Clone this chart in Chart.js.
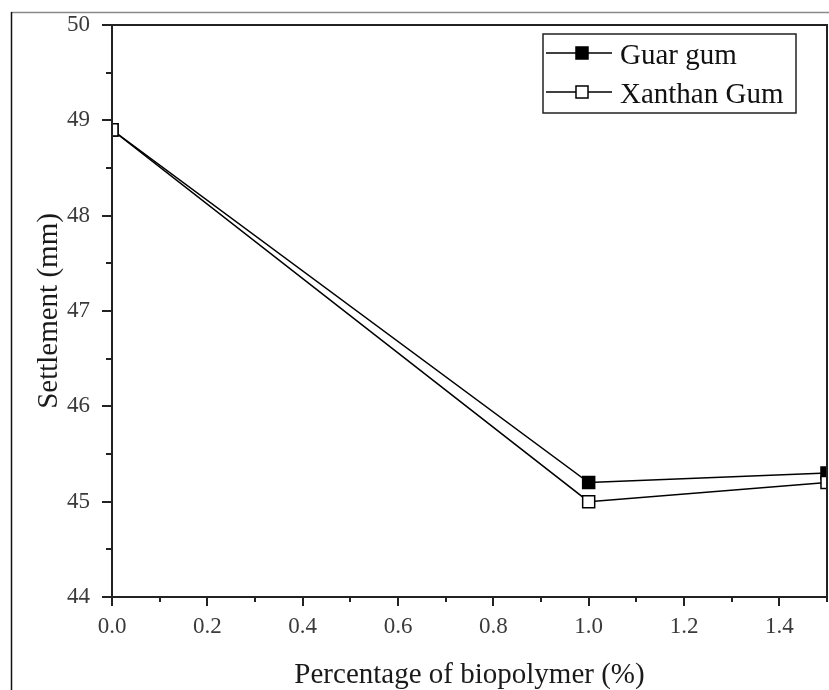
<!DOCTYPE html>
<html>
<head>
<meta charset="utf-8">
<script src="https://cdn.jsdelivr.net/npm/chart.js"></script>
<style>
  body { margin: 0; background: #fff; }
  #wrap { width: 829px; height: 690px; }
</style>
</head>
<body>
<div id="wrap"><canvas id="chart" width="829" height="690"></canvas></div>
<script>
// biopolymer content (%) vs settlement (mm)
var dosage = [0.0, 1.0, 1.5];
var guarGum = [48.9, 45.2, 45.3];
var xanthanGum = [48.9, 45.0, 45.2];
var seriesNames = ['Guar gum', 'Xanthan Gum'];

// tick positions (major get labels, minor are short marks only)
var xMajor = [0.0, 0.2, 0.4, 0.6, 0.8, 1.0, 1.2, 1.4];
var xMinor = [0.1, 0.3, 0.5, 0.7, 0.9, 1.1, 1.3, 1.5];
var yMajor = [44, 45, 46, 47, 48, 49, 50];
var yMinor = [44.5, 45.5, 46.5, 47.5, 48.5, 49.5];

var serif = '"Liberation Serif", "Times New Roman", serif';

function toPoints(ys) {
    return dosage.map((d, i) => ({ x: d, y: ys[i] }));
}

// outer figure frame, plot box and the outward tick marks
var axesBox = {
    id: 'axesBox',
    beforeDraw(chart) {
        const ctx = chart.ctx;
        ctx.save();
        ctx.lineWidth = 1.5;
        ctx.strokeStyle = '#8a8a8a';
        ctx.beginPath();
        ctx.moveTo(11, 12.5);
        ctx.lineTo(chart.width, 12.5);
        ctx.stroke();
        ctx.strokeStyle = '#111';
        ctx.beginPath();
        ctx.moveTo(11.5, 12);
        ctx.lineTo(11.5, chart.height);
        ctx.stroke();
        ctx.restore();
    },
    afterDatasetsDraw(chart) {
        const { ctx, chartArea: a, scales: { x, y } } = chart;
        ctx.save();
        ctx.strokeStyle = '#222';
        ctx.lineWidth = 2;
        ctx.strokeRect(a.left, a.top, a.right - a.left, a.bottom - a.top);
        ctx.beginPath();
        xMajor.forEach(v => {
            const px = Math.round(x.getPixelForValue(v));
            ctx.moveTo(px, a.bottom); ctx.lineTo(px, a.bottom + 9);
        });
        xMinor.forEach(v => {
            const px = Math.round(x.getPixelForValue(v));
            ctx.moveTo(px, a.bottom); ctx.lineTo(px, a.bottom + 5);
        });
        yMajor.forEach(v => {
            const py = Math.round(y.getPixelForValue(v));
            ctx.moveTo(a.left, py); ctx.lineTo(a.left - 10, py);
        });
        yMinor.forEach(v => {
            const py = Math.round(y.getPixelForValue(v));
            ctx.moveTo(a.left, py); ctx.lineTo(a.left - 6, py);
        });
        ctx.stroke();
        ctx.restore();
    }
};

// boxed legend in the top right corner, line through marker like the original
var boxLegend = {
    id: 'boxLegend',
    afterDraw(chart) {
        const { ctx, chartArea: a } = chart;
        const left = a.right - 284, top = a.top + 9;
        ctx.save();
        ctx.strokeStyle = '#222';
        ctx.lineWidth = 1.5;
        ctx.strokeRect(left, top, 253, 79);
        chart.data.datasets.forEach((ds, i) => {
            const rowY = a.top + 28 + i * 39;
            ctx.strokeStyle = '#000';
            ctx.lineWidth = 1.5;
            ctx.beginPath();
            ctx.moveTo(left + 3, rowY);
            ctx.lineTo(left + 69, rowY);
            ctx.stroke();
            const s = ds.pointRadius * Math.SQRT1_2;
            ctx.fillStyle = ds.pointBackgroundColor;
            ctx.fillRect(left + 39 - s, rowY - s, 2 * s, 2 * s);
            ctx.strokeRect(left + 39 - s, rowY - s, 2 * s, 2 * s);
            ctx.fillStyle = '#111';
            ctx.font = '29px ' + serif;
            ctx.textBaseline = 'alphabetic';
            ctx.fillText(ds.label, left + 77, rowY + 11);
        });
        ctx.restore();
    }
};

new Chart(document.getElementById('chart'), {
    type: 'line',
    data: {
        datasets: [{
            label: seriesNames[0],
            data: toPoints(guarGum),
            borderColor: '#000',
            borderWidth: 1.5,
            pointStyle: 'rect',
            pointRadius: 8.5,
            pointBackgroundColor: '#000',
            pointBorderColor: '#000',
            pointBorderWidth: 1.5,
            tension: 0,
            order: 1
        }, {
            label: seriesNames[1],
            data: toPoints(xanthanGum),
            borderColor: '#000',
            borderWidth: 1.5,
            pointStyle: 'rect',
            pointRadius: 8.5,
            pointBackgroundColor: '#fff',
            pointBorderColor: '#000',
            pointBorderWidth: 1.5,
            tension: 0,
            order: 0
        }]
    },
    options: {
        responsive: false,
        animation: false,
        layout: { autoPadding: false, padding: { left: 0, top: 25, right: 2, bottom: 0 } },
        plugins: {
            legend: { display: false },
            tooltip: { enabled: false }
        },
        scales: {
            x: {
                type: 'linear',
                min: 0,
                max: 1.5,
                afterBuildTicks: scale => { scale.ticks = xMajor.map(v => ({ value: v })); },
                afterFit: scale => {
                    scale.height = 93;
                    scale.paddingLeft = 0;
                    scale.paddingRight = 0;
                },
                grid: { display: false, drawTicks: false },
                border: { display: false },
                ticks: {
                    autoSkip: false,
                    maxRotation: 0,
                    padding: 16,
                    color: '#3a3a3a',
                    font: { family: serif, size: 23 },
                    callback: v => v.toFixed(1)
                },
                title: {
                    display: true,
                    text: 'Percentage of biopolymer (%)',
                    color: '#1a1a1a',
                    font: { family: serif, size: 29, lineHeight: 1 },
                    padding: 0
                }
            },
            y: {
                min: 44,
                max: 50,
                afterBuildTicks: scale => { scale.ticks = yMajor.map(v => ({ value: v })); },
                afterFit: scale => {
                    scale.width = 112;
                    // tick padding would otherwise push the plot top down
                    scale.paddingTop = 0;
                    scale.paddingBottom = 0;
                },
                grid: { display: false, drawTicks: false },
                border: { display: false },
                ticks: {
                    autoSkip: false,
                    padding: 22,
                    color: '#3a3a3a',
                    font: { family: serif, size: 23 },
                    callback: v => String(v)
                },
                title: {
                    display: true,
                    text: 'Settlement (mm)',
                    color: '#1a1a1a',
                    font: { family: serif, size: 29, lineHeight: 1 },
                    padding: { top: 35, bottom: 0 }
                }
            }
        }
    },
    plugins: [axesBox, boxLegend]
});
</script>
</body>
</html>
